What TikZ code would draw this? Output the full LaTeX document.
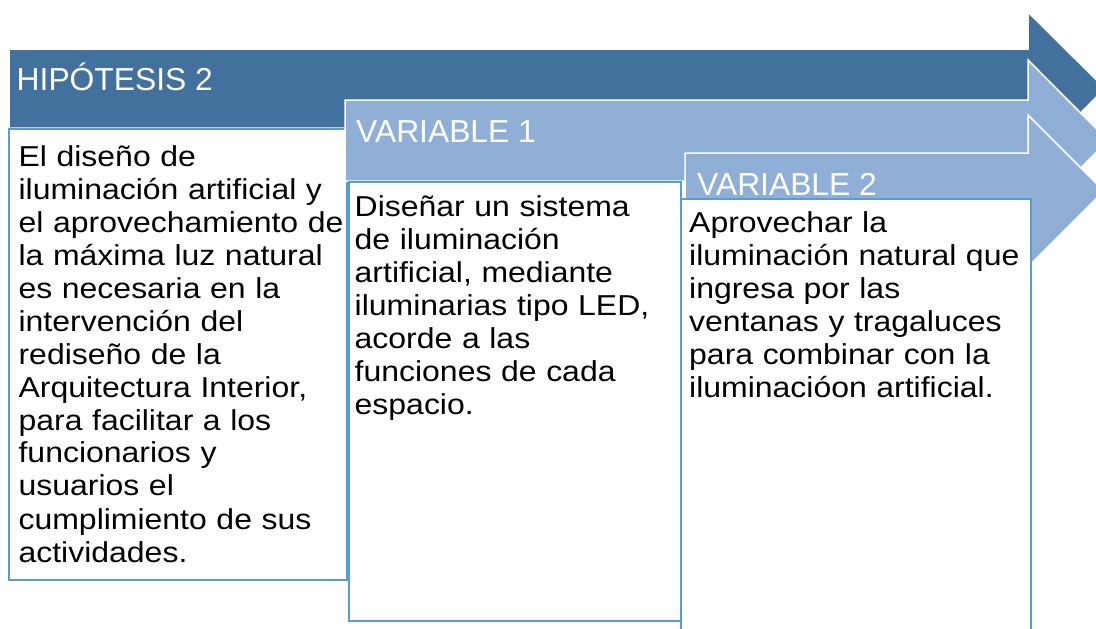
\documentclass[tikz,border=0pt]{standalone}
\usepackage{fontspec}
\setmainfont{Liberation Sans}
\newfontfamily\bodyfont[FakeStretch=1.11]{Liberation Sans}
\definecolor{darkarrow}{RGB}{65,113,156}
\definecolor{lightarrow}{RGB}{143,175,215}
\definecolor{boxblue}{RGB}{91,155,213}
\tikzset{
  arrowshape/.style={draw=white, line width=1.5pt, line join=miter},
  panel/.style={draw=boxblue, line width=2pt, fill=white, inner sep=0pt, anchor=north west},
  headtext/.style={anchor=base west, inner sep=0pt, text=white, font=\fontsize{31.8}{36}\selectfont},
  bodytext/.style={anchor=base west, inner sep=0pt, text=black, align=left, text width=420pt,
    font=\bodyfont\fontsize{28.8}{33}\selectfont},
}
\begin{document}
\begin{tikzpicture}[x=1pt,y=-1pt]
\useasboundingbox (0,0) rectangle (1096,629);
\clip (0,0) rectangle (1096,629);
% arrow 1
\path[fill=darkarrow, arrowshape] (9,49) -- (1028,49) -- (1028,12) -- (1105,88.5) -- (1028,165) -- (1028,128) -- (9,128) -- cycle;
\node[headtext] (h1) at (16.5,90) {HIPÓTESIS 2};
\node[panel, minimum width=338pt, minimum height=451pt] (b1) at (8,128) {};
% arrow 2
\path[fill=lightarrow, arrowshape] (345,100) -- (1028,100) -- (1028,60) -- (1108,140.5) -- (1028,221) -- (1028,181) -- (345,181) -- cycle;
\node[headtext] (h2) at (356,142.7) {VARIABLE 1};
\node[panel, minimum width=332pt, minimum height=439pt] (b2) at (348,181) {};
% arrow 3
\path[fill=lightarrow, arrowshape] (685,153) -- (1028,153) -- (1028,115) -- (1104,191) -- (1028,267) -- (1028,229) -- (685,229) -- cycle;
\node[headtext] (h3) at (697,195) {VARIABLE 2};
\node[panel, minimum width=350pt, minimum height=470pt] (b3) at (680,198) {};
% texts
\node[bodytext] (t1) at (18.4,166) {El diseño de\\
iluminación artificial y\\
el aprovechamiento de\\
la máxima luz natural\\
es necesaria en la\\
intervención del\\
rediseño de la\\
Arquitectura Interior,\\
para facilitar a los\\
funcionarios y\\
usuarios el\\
cumplimiento de sus\\
actividades.};
\node[bodytext] (t2) at (354.5,216) {Diseñar un sistema\\
de iluminación\\
artificial, mediante\\
iluminarias tipo LED,\\
acorde a las\\
funciones de cada\\
espacio.};
\node[bodytext] (t3) at (689,232) {Aprovechar la\\
iluminación natural que\\
ingresa por las\\
ventanas y tragaluces\\
para combinar con la\\
iluminacióon artificial.};
\end{tikzpicture}
\end{document}
